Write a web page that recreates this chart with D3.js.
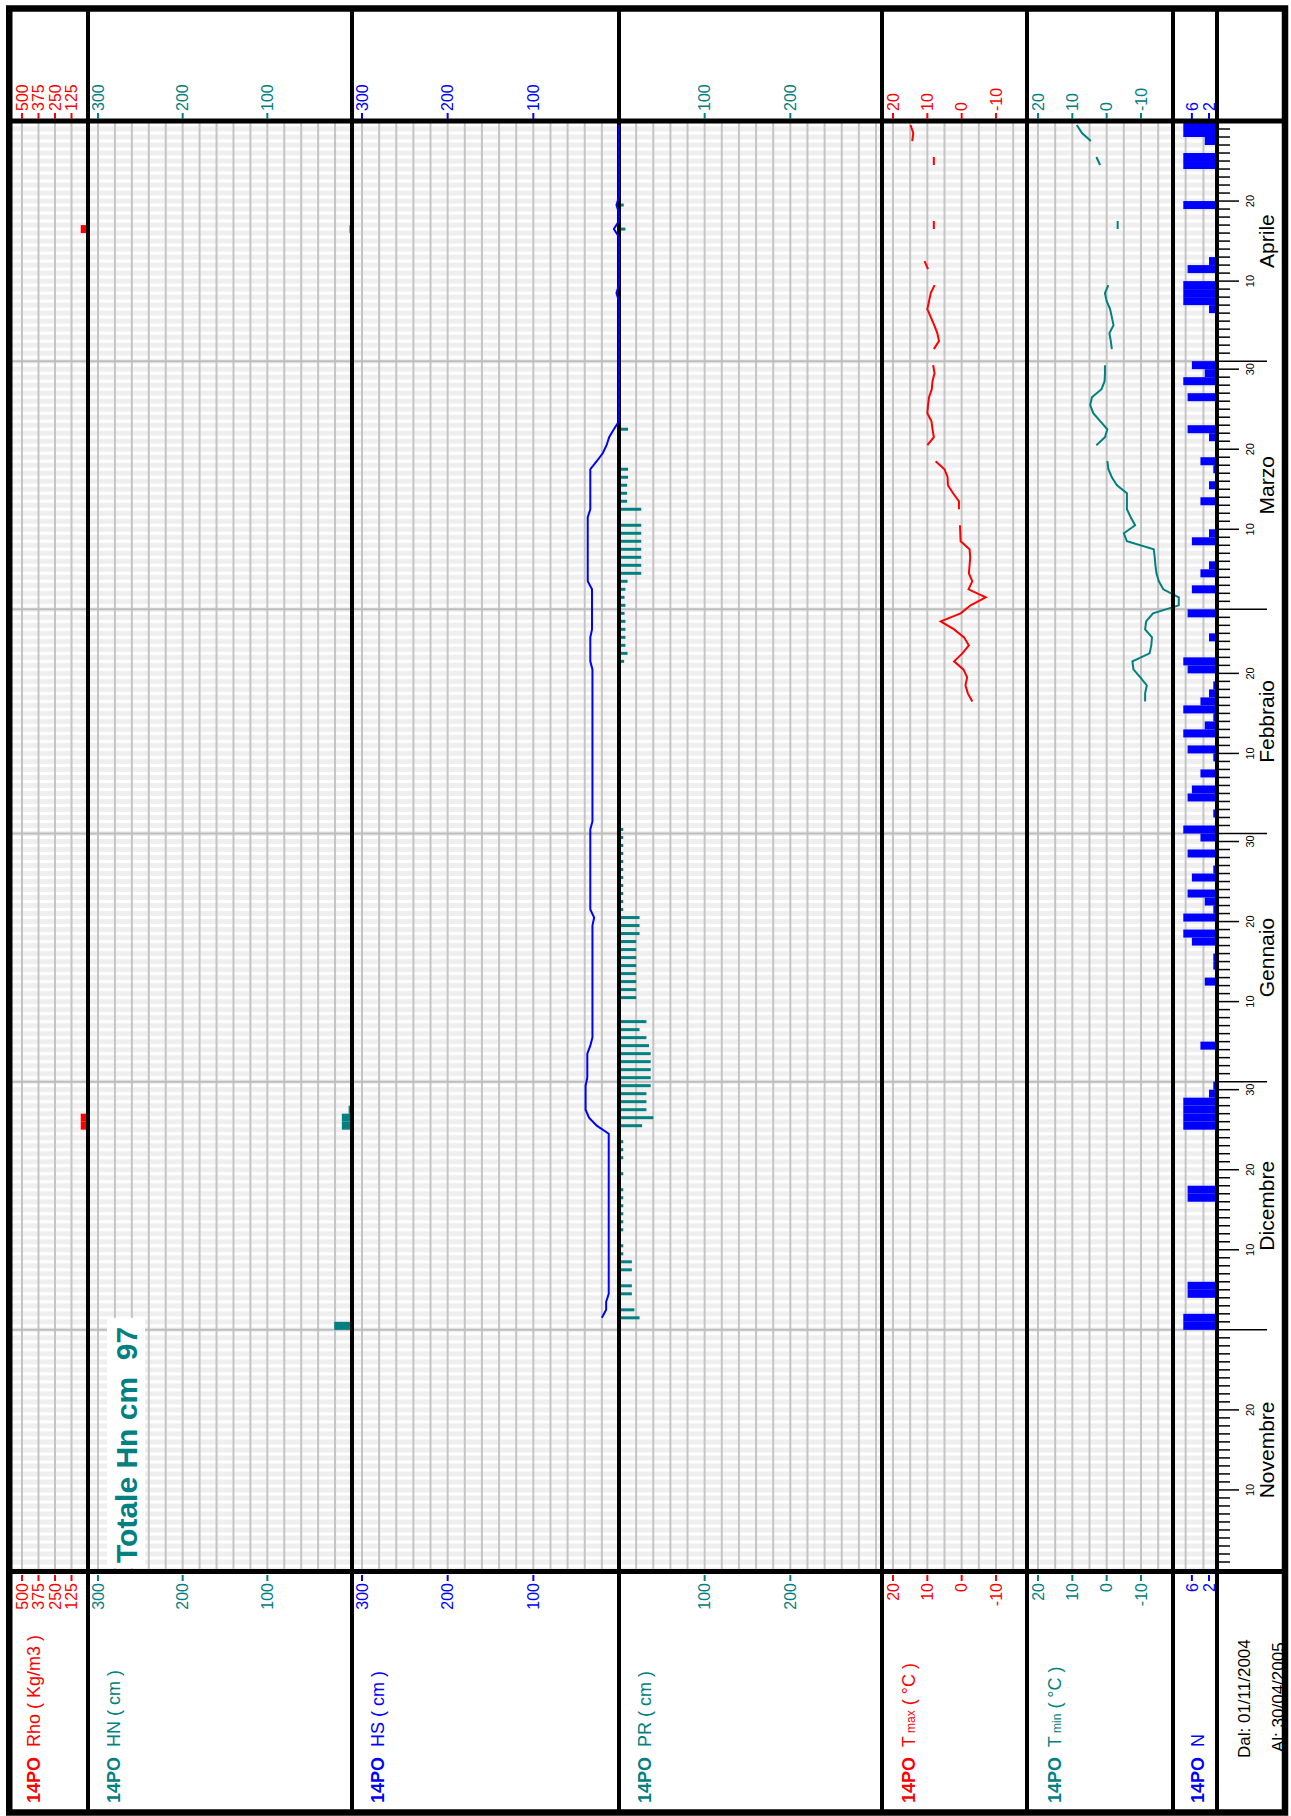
<!DOCTYPE html>
<html>
<head>
<meta charset="utf-8">
<title>14PO</title>
<script src="https://cdn.jsdelivr.net/npm/d3@7/dist/d3.min.js"></script>
<style>
  body { margin: 0; background: #fff; }
  svg text { font-family: "Liberation Sans", Arial, sans-serif; white-space: pre; }
</style>
</head>
<body>
<div id="chart"></div>
<script>
// values, 1 Nov 2004 - 30 Apr 2005

var monthNames = ["Novembre", "Dicembre", "Gennaio", "Febbraio", "Marzo", "Aprile"];

// HS snow depth (cm), one value per day from 2 Dec
var hsStart = "2004-12-02";
var hsValues = [
  20, 15, 15, 12, 12, 12, 12, 12, 12, 12, 12, 12, 12, 12, 12, 12, 12, 12, 12, 12, 12, 12, 12, 12, 26, 35, 39, 39, 39, 39,
  37, 37, 37, 37, 33.5, 31, 31, 31, 31, 31, 31, 31, 31, 31, 31, 31, 31, 31, 31, 31, 29, 33.5, 33.5, 33.5, 33.5, 33.5, 33.5, 33.5, 33.5, 33.5, 33.5,
  33.5, 31, 31, 31, 31, 31, 31, 31, 31, 31, 31, 31, 31, 31, 31, 31, 31, 31, 31, 31, 31, 33.5, 33.5, 33.5, 33.5, 31.5, 31.5, 31.5,
  31.5, 31.5, 31.5, 36.5, 36.5, 36.5, 36.5, 36.5, 36.5, 36.5, 36.5, 36.5, 33.5, 33.5, 33.5, 33.5, 33.5, 33.5, 26, 19, 14.5, 11.5, 6, 0, 0, 0, 0, 0, 0, 0, 0,
  0, 0, 0, 0, 0, 0, 0, 0, 3, 0, 0, 0, 0, 0, 0, 0, 6, 0, 0, 3, 0, 0, 0, 0, 0, 0, 0, 0, 0, 0
];

// PR penetration (cm), one value per day from 1 Dec, null = no reading
var prStart = "2004-12-01";
var prValues = [
  null, 24, 18, null, 15, 15, null, 15, 15, 5, 5, null, 5, 5, 5, 5, 5, 5, null, 5, null, 5, 5, 5, null, 27, 40, 32, 32, 32, 37,
  37, 37, 37, 37, 35, 32, 24, 32, null, null, 20, 20, 20, 20, 20, 20, 20, 20, 24, 24, 24, 5, 5, 5, 5, 5, 5, 5, 5, 5, 5,
  5, null, null, null, null, null, null, null, null, null, null, null, null, null, null, null, null, null, null, null, null, 6, 10, 7.5, 7.5, 7.5, 7.5, 6.5,
  7.5, 6.5, 7.5, 10, 26, 26, 26, 26, 26, 26, 26, null, 26, 9.5, 9.5, 9.5, 10.5, 10.5, null, null, null, null, 10.5, null, null, null, null, null, null, null, null,
  null, null, null, null, null, null, null, null, null, null, null, null, null, null, null, null, 7.5, null, null, 5.5
];

// N, one value per day from 1 Dec
var nStart = "2004-12-01";
var nValues = [
  8, 8, 0, 0, 7, 7, 0, 0, 0, 0, 0, 0, 0, 0, 0, 0, 7, 7, 0, 0, 0, 0, 0, 0, 0, 8, 8, 8, 8, 2, 1,
  0, 0, 0, 0, 4, 0, 0, 0, 0, 0, 0, 0, 3, 0, 1, 1, 0, 6, 8, 0, 8, 1, 3, 7, 0, 6, 1, 0, 7, 0, 4,
  8, 0, 1, 0, 7, 6, 0, 4, 0, 1, 7, 0, 8, 3, 1, 8, 4, 2, 1, 0, 7, 8, 0, 0, 2, 0, 0, 7,
  0, 0, 6, 0, 4, 2, 0, 0, 6, 2, 0, 0, 0, 4, 0, 2, 0, 1, 4, 0, 0, 2, 7, 0, 0, 0, 7, 0, 8, 3, 6,
  0, 0, 0, 0, 0, 0, 2, 8, 8, 8, 0, 7, 2, 0, 0, 0, 0, 0, 0, 8, 0, 0, 0, 0, 8, 8, 0, 3, 8, 8
];

// T max / T min (C), one value per day from 17 Feb
var tStart = "2005-02-17";
var tmaxValues = [
  -3.1, -1.8, -1.1, -1.6, -0.5, 2.2, -0.2, -2.1, -0.7, 2.2, 6.1, 0.3,
  -2.6, -7.0, -2.0, -3.1, -2.1, -2.3, -2.5, -2.3, 0.3, 0.4, 0.5, null, 0.8, 0.8, 2.5, 4.0, 4.1, 5.0, 7.6, null, 10.0, 8.1, 8.5, 8.8, 10.0, 9.8, 9.5, 8.7, 8.5, 7.9, 8.3,
  null, 8.1, 6.6, 7.1, 8.0, 9.0, 10.0, 9.5, 9.0, 7.9, null, 9.8, 10.8, null, null, null, 8.1, 8.1, null, null, null, null, null, null, 8.1, 8.1, null, 14.4, 14.1, 14.9
];
var tminValues = [
  -11.2, -11.2, -11.7, -9.8, -7.8, -7.5, -12.5, -13.0, -13.2, -11.2, -11.5, -13.5,
  -21.0, -21.0, -16.5, -15.2, -14.5, -14.2, -14.0, -13.7, -5.9, -5.0, -8.3, -7.0, -5.9, -5.9, -5.9, -3.0, -1.5, -0.5, -0.2, null, 3.0, 0.5, -0.2, 1.9, 3.9, 4.8, 4.3, 1.5, 0.6, 0.5, 0.5,
  null, -1.5, -1.2, -0.8, -2.0, -1.5, -1.0, 0.0, 0.5, -0.5, null, null, null, null, null, null, -3.2, -3.2, null, null, null, null, null, null, 1.9, 3.0, null, 4.6, 7.2, 8.7
];

// HN new snow (cm) and Rho density (Kg/m3)
var hnDates = ["2004-12-01", "2004-12-26", "2004-12-27", "2004-12-28", "2005-04-17"];
var hnValues = [21, 12, 12, 4, 3];
var rhoDates = ["2004-12-26", "2004-12-27", "2005-04-17"];
var rhoValues = [55, 55, 55];

// axis ticks
var rhoTicks = [500, 375, 250, 125];
var cmTicks = [300, 200, 100];
var prTicks = [100, 200];
var tTicks = [20, 10, 0, -10];
var nTicks = [6, 2];

var totalLabel = "Totale Hn cm  97";
var dalLabel = "Dal: 01/11/2004", alLabel = "Al: 30/04/2005";

// set up

var width = 1291,
  height = 1816;
var plotTop = 121, plotBottom = 1570;
var red = "#ff0000", teal = "#008080", blue = "#0000ff", grid = "#c4c4c4";

var parse = d3.utcParse("%Y-%m-%d");
var seasonStart = parse("2004-11-01"), seasonEnd = parse("2005-05-01");

var y = d3.scaleUtc()
    .domain([seasonStart, seasonEnd])
    .range([plotBottom, plotTop]);

var days = d3.utcDay.range(seasonStart, seasonEnd);

function series(start, values) {
  var s = parse(start);
  return values.map(function(v, i) {
    return {date: d3.utcDay.offset(s, i), value: v};
  });
}
function pairs(dates, values) {
  return dates.map(function(d, i) { return {date: parse(d), value: values[i]}; });
}
function mid(d) { return y(d3.utcHour.offset(d, 12)); }

var xRho = d3.scaleLinear().domain([0, 500]).range([88, 22]);
var xHN = d3.scaleLinear().domain([0, 300]).range([352, 98]);
var xHS = d3.scaleLinear().domain([0, 300]).range([619, 362]);
var xPR = d3.scaleLinear().domain([0, 300]).range([619, 876]);
var xTmax = d3.scaleLinear().domain([20, -10]).range([893, 996]);
var xTmin = d3.scaleLinear().domain([20, -10]).range([1038, 1141]);
var xN = d3.scaleLinear().domain([0, 8]).range([1217.6, 1183.3]);

var columns = [
  {label: "Rho", unit: " ( Kg/m3 )", color: red, scale: xRho, ticks: rhoTicks, grid: [125, 250, 375, 500], labelX: 40},
  {label: "HN", unit: " ( cm )", color: teal, scale: xHN, ticks: cmTicks, grid: d3.range(20, 301, 20), labelX: 120},
  {label: "HS", unit: " ( cm )", color: blue, scale: xHS, ticks: cmTicks, grid: d3.range(20, 301, 20), labelX: 384},
  {label: "PR", unit: " ( cm )", color: teal, scale: xPR, ticks: prTicks, grid: d3.range(20, 301, 20), labelX: 651},
  {label: "T", sub: "max", unit: " ( °C )", color: red, scale: xTmax, ticks: tTicks, grid: d3.range(-15, 21, 5), labelX: 915},
  {label: "T", sub: "min", unit: " ( °C )", color: teal, scale: xTmin, ticks: tTicks, grid: d3.range(-15, 21, 5), labelX: 1061},
  {label: "N", unit: "", color: blue, scale: xN, ticks: nTicks, grid: [3.3, 7.45], labelX: 1204}
];
var dividers = [88, 352, 619, 882, 1027, 1173, 1217];

var svg = d3.select("#chart").append("svg")
    .attr("width", width)
    .attr("height", height);

svg.append("rect")
    .attr("width", width)
    .attr("height", height)
    .attr("fill", "#fff");

// striped plot background

svg.append("rect")
    .attr("x", 12).attr("y", plotTop)
    .attr("width", 1217 - 12).attr("height", plotBottom - plotTop)
    .attr("fill", "#efefef");

svg.append("g")
  .selectAll("rect")
  .data(days)
  .enter().append("rect")
    .attr("x", 12)
    .attr("width", 1217 - 12)
    .attr("y", function(d) { return mid(d) - 1.5; })
    .attr("height", 3)
    .attr("fill", "#ffffff");

// grid

columns.forEach(function(c) {
  svg.append("g")
    .selectAll("line")
    .data(c.grid)
    .enter().append("line")
      .attr("x1", function(v) { return c.scale(v); })
      .attr("x2", function(v) { return c.scale(v); })
      .attr("y1", plotTop)
      .attr("y2", plotBottom)
      .attr("stroke", grid)
      .attr("stroke-width", 2);
});

var monthStarts = d3.utcMonth.range(seasonStart, seasonEnd);

svg.append("g")
  .selectAll("line")
  .data(monthStarts.slice(1))
  .enter().append("line")
    .attr("x1", 12)
    .attr("x2", 1215)
    .attr("y1", function(d) { return y(d); })
    .attr("y2", function(d) { return y(d); })
    .attr("stroke", "#bdbdbd")
    .attr("stroke-width", 2);

// bars

function dayBars(data, scale, base, color) {
  svg.append("g")
    .selectAll("rect")
    .data(data.filter(function(d) { return d.value; }))
    .enter().append("rect")
      .attr("x", function(d) { return Math.min(scale(d.value), base); })
      .attr("width", function(d) { return Math.abs(base - scale(d.value)); })
      .attr("y", function(d) { return y(d3.utcDay.offset(d.date, 1)); })
      .attr("height", function(d) { return y(d.date) - y(d3.utcDay.offset(d.date, 1)); })
      .attr("fill", color);
}

dayBars(pairs(rhoDates, rhoValues), xRho, 88, red);
dayBars(pairs(hnDates, hnValues), xHN, 352, teal);
dayBars(series(nStart, nValues), xN, 1217, blue);

svg.append("g")
  .selectAll("rect")
  .data(series(prStart, prValues).filter(function(d) { return d.value != null; }))
  .enter().append("rect")
    .attr("x", 619)
    .attr("width", function(d) { return xPR(d.value) - 619; })
    .attr("y", function(d) { return mid(d.date) - 1.5; })
    .attr("height", 3)
    .attr("fill", teal);

// temperature lines

function lineOf(scale) {
  return d3.line()
    .defined(function(d) { return d.value != null; })
    .x(function(d) { return scale(d.value); })
    .y(function(d) { return mid(d.date); });
}

svg.append("path")
    .datum(series(tStart, tmaxValues))
    .attr("d", lineOf(xTmax))
    .attr("fill", "none")
    .attr("stroke", red)
    .attr("stroke-width", 2);

svg.append("path")
    .datum(series(tStart, tminValues))
    .attr("d", lineOf(xTmin))
    .attr("fill", "none")
    .attr("stroke", teal)
    .attr("stroke-width", 2);

// total new snow label

svg.append("rect")
    .attr("x", 107).attr("y", 1318)
    .attr("width", 38).attr("height", 250)
    .attr("fill", "#fff");

svg.append("text")
    .attr("transform", "translate(137,1563) rotate(-90)")
    .attr("font-size", 30)
    .attr("font-weight", "bold")
    .attr("fill", teal)
    .text(totalLabel);

// frame lines

svg.append("g")
  .selectAll("line")
  .data(dividers)
  .enter().append("line")
    .attr("x1", function(d) { return d; })
    .attr("x2", function(d) { return d; })
    .attr("y1", 10)
    .attr("y2", 1812)
    .attr("stroke", "#000")
    .attr("stroke-width", 4);

[121, 1571.5].forEach(function(h) {
  svg.append("line")
      .attr("x1", 10).attr("x2", 1284)
      .attr("y1", h).attr("y2", h)
      .attr("stroke", "#000")
      .attr("stroke-width", 5);
});

// HS line goes over the divider at zero

svg.append("path")
    .datum(series(hsStart, hsValues))
    .attr("d", lineOf(xHS))
    .attr("fill", "none")
    .attr("stroke", blue)
    .attr("stroke-width", 2);

// value ticks, header and footer

columns.forEach(function(c) {
  var g = svg.append("g").attr("fill", c.color);

  g.selectAll("text.top")
    .data(c.ticks)
    .enter().append("text")
      .attr("class", "top")
      .attr("transform", function(v) { return "translate(" + c.scale(v) + ",111) rotate(-90)"; })
      .attr("dy", "0.36em")
      .attr("font-size", 16)
      .text(function(v) { return v; });

  g.selectAll("text.bottom")
    .data(c.ticks)
    .enter().append("text")
      .attr("class", "bottom")
      .attr("transform", function(v) { return "translate(" + c.scale(v) + ",1583) rotate(-90)"; })
      .attr("dy", "0.36em")
      .attr("text-anchor", "end")
      .attr("font-size", 16)
      .text(function(v) { return v; });

  [[113, 119], [1575, 1581]].forEach(function(r) {
    g.selectAll(null)
      .data(c.ticks)
      .enter().append("line")
        .attr("x1", function(v) { return c.scale(v); })
        .attr("x2", function(v) { return c.scale(v); })
        .attr("y1", r[0])
        .attr("y2", r[1])
        .attr("stroke", c.color)
        .attr("stroke-width", 2);
  });

  // column label
  var t = g.append("text")
      .attr("transform", "translate(" + c.labelX + ",1803) rotate(-90)")
      .attr("font-size", 18);
  t.append("tspan").attr("font-weight", "bold").text("14PO");
  t.append("tspan").text("  " + c.label);
  if (c.sub) t.append("tspan").attr("font-size", 12).text(" " + c.sub);
  t.append("tspan").text(c.unit);
});

// date axis

var dateX = 1219;

svg.append("g")
  .selectAll("line")
  .data(days.concat([seasonEnd]))
  .enter().append("line")
    .attr("x1", dateX)
    .attr("x2", function(d) {
      var dd = d.getUTCDate();
      if (dd == 1) return 1267;
      if (dd == 11 || dd == 21 || dd == 31) return 1239;
      return 1230;
    })
    .attr("y1", function(d) { return y(d); })
    .attr("y2", function(d) { return y(d); })
    .attr("stroke", "#000")
    .attr("stroke-width", 1.5);

var decadeTicks = days.filter(function(d) {
  var dd = d.getUTCDate();
  return dd == 11 || dd == 21 || dd == 31;
});

svg.append("g")
  .selectAll("text")
  .data(decadeTicks)
  .enter().append("text")
    .attr("transform", function(d) { return "translate(1254," + y(d) + ") rotate(-90)"; })
    .attr("text-anchor", "middle")
    .attr("font-size", 11)
    .text(function(d) { return d.getUTCDate() - 1; });

svg.append("g")
  .selectAll("text")
  .data(monthStarts)
  .enter().append("text")
    .attr("transform", function(d) {
      var m = (y(d) + y(d3.utcMonth.offset(d, 1))) / 2;
      return "translate(1274," + m + ") rotate(-90)";
    })
    .attr("text-anchor", "middle")
    .attr("font-size", 21)
    .text(function(d, i) { return monthNames[i]; });

// period

svg.append("text")
    .attr("transform", "translate(1250,1758) rotate(-90)")
    .attr("font-size", 17)
    .text(dalLabel);

svg.append("text")
    .attr("transform", "translate(1284,1752) rotate(-90)")
    .attr("font-size", 17)
    .text(alLabel);

// outer frame

svg.append("rect")
    .attr("x", 9.25).attr("y", 8.5)
    .attr("width", 1275.75).attr("height", 1804)
    .attr("fill", "none")
    .attr("stroke", "#000")
    .attr("stroke-width", 6.5);
</script>
</body>
</html>
